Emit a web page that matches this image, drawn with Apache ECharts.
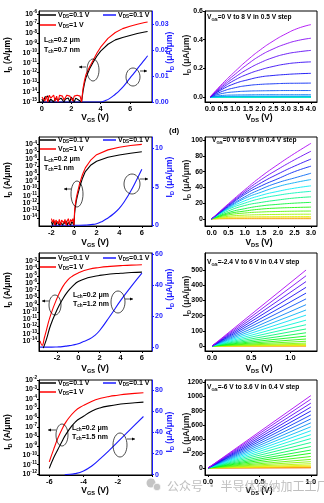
<!DOCTYPE html>
<html><head><meta charset="utf-8">
<script src="https://cdn.jsdelivr.net/npm/echarts@6/dist/echarts.min.js"></script>
<style>html,body{margin:0;padding:0;background:#fff}#c{width:324px;height:503px}</style>
</head><body><div id="c"></div>
<script>
// ================= DATA =================
// Transfer curves: left axis = log10(I_D [A/um]); right axis = linear I_D.
// (a) Tch = 0.7 nm
const aVgs = [0,0.1,0.2,0.3,0.4,0.5,0.6,0.7,0.8,0.9,1.0,1.1,1.2,1.3,1.4,1.5,1.6,1.7,1.8,1.9,2.0,2.1,2.2,2.3,2.4,2.5,2.6,2.7,
  2.75,2.8,2.9,3.0,3.25,3.5,3.75,4.0,4.5,5.0,5.5,6.0,6.5,7.0,7.2];
const aRedLog10 = [-14.5,-14.3,-14.9,-14.4,-15.0,-14.3,-14.6,-14.4,-14.3,-14.9,-14.4,-15.0,-14.3,-14.5,-14.4,-14.8,-15.0,-14.3,-14.5,-14.4,-14.3,-14.9,-14.4,-14.6,-14.3,-14.5,-14.4,-15.0,
  -15.0,-13.6,-12.8,-12.2,-11.4,-10.7,-10.0,-9.4,-8.5,-7.9,-7.5,-7.25,-7.05,-6.88,-6.82];
const aBlackLog10 = [-14.7,-15.0,-14.5,-14.6,-14.4,-15.0,-14.7,-14.5,-15.0,-14.6,-14.5,-14.8,-15.0,-14.6,-14.5,-15.0,-14.7,-14.5,-14.6,-15.0,-14.5,-14.7,-15.0,-14.6,-14.5,-14.8,-14.6,-15.0,
  -15.0,-13.9,-13.1,-12.5,-11.6,-10.9,-10.3,-9.8,-9.1,-8.65,-8.4,-8.2,-8.0,-7.85,-7.8];
const aBlueVgs = [0,1,2,3,4.0,4.3,4.6,5.0,5.3,5.6,6.0,6.3,6.6,7.0,7.2];
const aBlueId = [0,0,0,0,0,0.0005,0.0013,0.003,0.0045,0.0063,0.0092,0.0113,0.0135,0.0163,0.0178];

// (c) Tch = 1 nm
const cVgs = [-2.0,-1.9,-1.8,-1.7,-1.6,-1.5,-1.4,-1.3,-1.2,-1.1,-1.0,-0.9,-0.8,-0.7,-0.6,-0.5,-0.4,-0.3,-0.2,-0.1,0.0,
  0.05,0.1,0.2,0.3,0.5,0.75,1.0,1.5,2.0,3.0,4.0,5.0,6.0];
const cRedLog10 = [-14.1,-14.6,-14.2,-15.0,-14.3,-14.1,-14.8,-14.2,-15.0,-14.3,-14.1,-14.7,-14.2,-15.0,-14.4,-14.1,-14.9,-14.2,-14.5,-14.1,-15.0,
  -13.0,-12.3,-11.3,-10.6,-9.3,-8.1,-7.2,-6.1,-5.4,-4.75,-4.4,-4.15,-4.0];
const cBlackLog10 = [-14.5,-15.0,-14.4,-14.7,-15.0,-14.5,-14.3,-15.0,-14.6,-14.4,-15.0,-14.5,-14.8,-14.4,-15.0,-14.6,-14.4,-15.0,-14.5,-14.6,-15.0,
  -13.4,-12.7,-11.7,-11.0,-9.8,-8.6,-7.7,-6.8,-6.3,-5.75,-5.45,-5.2,-5.0];
const cBlueVgs = [-2,-1,0,0.5,1.0,1.5,2.0,2.5,3.0,3.5,4.0,4.5,5.0,5.5,6.0];
const cBlueId = [0,0,0,0,0.02,0.08,0.2,0.5,0.95,1.5,2.2,3.2,4.4,5.8,7.3];

// (e) Tch = 1.2 nm
const eRedVgs = [-3.6,-3.4,-3.2,-3.0,-2.6,-2.0,-1.5,-1.0,-0.5,0,1,2,3,4,5,6];
const eRedLog10 = [-14.0,-14.6,-13.6,-12.5,-10.4,-8.1,-6.6,-5.6,-5.0,-4.6,-4.1,-3.85,-3.7,-3.6,-3.52,-3.47];
const eBlackVgs = [-3.3,-3.0,-2.6,-2.0,-1.5,-1.0,-0.5,0,1,2,3,4,5,6];
const eBlackLog10 = [-15.0,-13.8,-11.8,-9.7,-8.3,-7.2,-6.4,-5.8,-5.25,-4.95,-4.75,-4.65,-4.55,-4.5];
const eBlueVgs = [-3.6,-2.5,-2.0,-1.5,-1.0,-0.5,0,0.5,1.0,1.5,2.0,3.0,4.0,5.0,6.0];
const eBlueId = [0,0,0.1,0.3,0.8,1.4,2.2,3.6,5.0,7.2,10.5,20,30,39,47.5];

// (g) Tch = 1.5 nm
const gVgs = [-6,-5.75,-5.5,-5.25,-5,-4.5,-4,-3.5,-3,-2.5,-2,-1.5,-1,-0.5];
const gRedLog10 = [-10.7,-9.4,-8.2,-7.2,-6.4,-5.3,-4.7,-4.25,-3.95,-3.75,-3.62,-3.5,-3.42,-3.35];
const gBlackLog10 = [-11.4,-10.3,-9.4,-8.5,-7.7,-6.5,-5.85,-5.3,-4.95,-4.75,-4.6,-4.5,-4.42,-4.35];
const gBlueVgs = [-5.1,-5,-4.5,-4,-3.5,-3,-2.5,-2,-1.5,-1,-0.5];
const gBlueId = [0,0.2,1,3.5,8.5,15.5,23,31,39,47,55];

// Output curves (I_D in uA/um), one row per V_GS step, low -> high V_GS
const bVds = [0,0.5,1.0,1.5,2.0,2.5,3.0,3.5,4.0];
const bCurves = [
  [0,0,0,0,0,0,0,0,0],[0,0,0,0,0,0,0,0,0],[0,0,0,0,0,0,0,0,0],[0,0,0,0,0,0,0,0,0],
  [0,0,0,0,0,0,0,0,0],[0,0,0,0,0,0,0,0,0],[0,0,0,0,0,0,0,0,0],
  [0,0.0015,0.002,0.002,0.002,0.002,0.002,0.002,0.002],
  [0,0.004,0.0055,0.006,0.006,0.006,0.006,0.006,0.006],
  [0,0.011,0.014,0.015,0.016,0.016,0.016,0.016,0.016],
  [0,0.025,0.036,0.041,0.043,0.044,0.045,0.045,0.045],
  [0,0.04,0.065,0.08,0.088,0.092,0.095,0.096,0.097],
  [0,0.055,0.095,0.12,0.14,0.15,0.157,0.162,0.165],
  [0,0.065,0.12,0.16,0.19,0.213,0.23,0.24,0.245],
  [0,0.075,0.14,0.195,0.24,0.275,0.30,0.315,0.325],
  [0,0.085,0.16,0.23,0.29,0.335,0.37,0.395,0.41],
  [0,0.095,0.18,0.26,0.33,0.39,0.44,0.48,0.505]
];
const dVds = [0,0.5,1.0,1.5,2.0,2.5,3.0];
const dCurves = [
  [0,0.25,0.3,0.3,0.3,0.3,0.3],
  [0,0.9,1.1,1.15,1.2,1.2,1.2],
  [0,1.9,2.6,2.8,2.9,3,3],
  [0,3.3,4.8,5.4,5.7,5.9,6],
  [0,5,7.5,8.8,9.4,9.8,10],
  [0,6.5,10,12.5,13.8,14.5,15],
  [0,8,13,16.5,18.5,20,21],
  [0,10,17,21,24,26.5,28],
  [0,12,20,26,30,33,35],
  [0,13,23,30,35,39,42],
  [0,14,26,34,41,46,50],
  [0,15,28,38,46,52,58],
  [0,16,31,42,51,60,67],
  [0,17,33,46,57,67,76],
  [0,18,35,50,63,75,86],
  [0,19,37,54,69,83,96]
];
const fVds = [0,1.2];
const fEnd = [0,0.5,2,5,11,19,31,46,65,87,112,140,170,203,237,272,310,348,386,424,462,500];
const hVds = [0,1.0];
const hEnd = [2,6,14,25,40,60,88,120,160,205,250,300,355,410,465,520,575,630,685,740,795,850,905,960,1010];

// Tick values
const aXTicks = [0,2,4,6], aYTicks = [-15,-14,-13,-12,-11,-10,-9,-8,-7,-6], aRTicks = [0,0.01,0.02,0.03];
const cXTicks = [-2,0,2,4,6], cYTicks = [-15,-14,-13,-12,-11,-10,-9,-8,-7,-6,-5,-4,-3], cRTicks = [0,5,10];
const eXTicks = [-2,0,2,4,6], eYTicks = [-15,-14,-13,-12,-11,-10,-9,-8,-7,-6,-5,-4,-3,-2], eRTicks = [0,20,40,60];
const gXTicks = [-6,-4,-2,0], gYTicks = [-12,-11,-10,-9,-8,-7,-6,-5,-4,-3,-2], gRTicks = [0,20,40,60,80];
const bXTicks = [0,0.5,1,1.5,2,2.5,3,3.5,4], bYTicks = [0,0.2,0.4,0.6];
const dXTicks = [0,0.5,1,1.5,2,2.5,3], dYTicks = [0,20,40,60,80,100];
const fXTicks = [0,0.5,1], fYTicks = [0,100,200,300,400,500];
const hXTicks = [0,0.5,1], hYTicks = [0,200,400,600,800,1000,1200];

// ================= CHART =================
const F = '"Liberation Sans", Arial, sans-serif';
const BLUE = '#1a1aff', RED = '#ff0000', BLK = '#000000';

function hsl2hex(h, s, l) {
  s /= 100; l /= 100;
  const k = n => (n + h / 30) % 12, a = s * Math.min(l, 1 - l);
  const f = n => l - a * Math.max(-1, Math.min(k(n) - 3, Math.min(9 - k(n), 1)));
  const t = x => Math.round(x * 255).toString(16).padStart(2, '0');
  return '#' + t(f(0)) + t(f(8)) + t(f(4));
}
function rainbow(i, n, h0, h1) { return hsl2hex(h0 + (h1 - h0) * i / (n - 1), 92, 50); }

const grids = [
  {left:39, top:11, width:113, height:91},
  {left:205, top:11, width:112, height:91},
  {left:39, top:137, width:113, height:89},
  {left:205, top:137, width:112, height:89},
  {left:39, top:253, width:113, height:98},
  {left:205, top:253, width:112, height:98},
  {left:39, top:380, width:113, height:95},
  {left:205, top:380, width:112, height:95}
].map(g => Object.assign({show:true, borderColor:'#000', borderWidth:1, backgroundColor:'transparent'}, g));

const lblBase = {fontSize:7.5, fontWeight:'bold', fontFamily:F, color:'#000'};
function xAx(gi, min, max, ticks, fmt) {
  return {type:'value', gridIndex:gi, min, max, position:'bottom',
    axisLine:{show:true, onZero:false, lineStyle:{color:'#000', width:1}},
    axisTick:{show:true, inside:false, length:2, customValues:ticks, lineStyle:{color:'#000'}},
    axisLabel:Object.assign({customValues:ticks, formatter:fmt, margin:3}, lblBase),
    splitLine:{show:false}};
}
function yAx(gi, min, max, ticks, fmt, pos, color, rich) {
  const lab = Object.assign({customValues:ticks, formatter:fmt, margin:pos==='right'?3:2}, lblBase, {color, fontSize:7});
  if (rich) lab.rich = rich;
  return {type:'value', gridIndex:gi, min, max, position:pos,
    axisLine:{show:true, onZero:false, lineStyle:{color, width:1}},
    axisTick:{show:true, inside:false, length:2, customValues:ticks, lineStyle:{color}},
    axisLabel:lab, splitLine:{show:false}};
}
const logRich = {
  b:{fontSize:7, fontWeight:'bold', fontFamily:F, color:'#000', lineHeight:9},
  s:{fontSize:4.6, fontWeight:'bold', fontFamily:F, color:'#000', verticalAlign:'top', lineHeight:5}
};
const logFmt = v => '{b|10}{s|' + Math.round(v) + '}';
const f0 = v => String(v), f1 = v => v.toFixed(1), f2 = v => v.toFixed(2);

const xAxes = [
  xAx(0, -0.2, 7.5, aXTicks, f0),
  xAx(1, -0.2, 4.24, bXTicks, f1),
  xAx(2, -3.1, 6.9, cXTicks, f0),
  xAx(3, -0.2, 3.18, dXTicks, f1),
  xAx(4, -3.7, 6.95, eXTicks, f0),
  xAx(5, -0.09, 1.34, fXTicks, f1),
  xAx(6, -6.6, 0, gXTicks, f0),
  xAx(7, -0.03, 1.06, hXTicks, f1)
];
const yAxes = [
  yAx(0, -15, -5.7, aYTicks, logFmt, 'left', '#000', logRich),     //0
  yAx(0, 0, 0.035, aRTicks, f2, 'right', BLUE),                     //1
  yAx(1, -0.035, 0.6, bYTicks, f1, 'left', '#000'),                 //2
  yAx(2, -15.1, -3, cYTicks, logFmt, 'left', '#000', logRich),      //3
  yAx(2, -0.1, 11.5, cRTicks, f0, 'right', BLUE),                   //4
  yAx(3, -9, 104, dYTicks, f0, 'left', '#000'),                     //5
  yAx(4, -15.4, -1.85, eYTicks, logFmt, 'left', '#000', logRich),   //6
  yAx(4, -2.5, 60.5, eRTicks, f0, 'right', BLUE),                   //7
  yAx(5, -33, 612, fYTicks, f0, 'left', '#000'),                    //8
  yAx(6, -12.1, -2, gYTicks, logFmt, 'left', '#000', logRich),      //9
  yAx(6, -0.3, 89.5, gRTicks, f0, 'right', BLUE),                   //10
  yAx(7, -98, 1228, hYTicks, f0, 'left', '#000')                    //11
];

function line(xi, yi, xs, ys, color, width, smooth) {
  return {type:'line', xAxisIndex:xi, yAxisIndex:yi, data:xs.map((x, i) => [x, ys[i]]),
    showSymbol:false, symbol:'none', smooth:smooth ? 0.5 : false,
    lineStyle:{color, width}, itemStyle:{color}, silent:true, animation:false, clip:true};
}

const series = [];
// transfer panels
series.push(line(0, 1, aBlueVgs, aBlueId, BLUE, 1.1, true));
series.push(line(0, 0, aVgs, aBlackLog10, BLK, 1.1));
series.push(line(0, 0, aVgs, aRedLog10, RED, 1.1));
series.push(line(2, 4, cBlueVgs, cBlueId, BLUE, 1.1, true));
series.push(line(2, 3, cVgs, cBlackLog10, BLK, 1.1));
series.push(line(2, 3, cVgs, cRedLog10, RED, 1.1));
series.push(line(4, 7, eBlueVgs, eBlueId, BLUE, 1.1, true));
series.push(line(4, 6, eBlackVgs, eBlackLog10, BLK, 1.1, true));
series.push(line(4, 6, eRedVgs, eRedLog10, RED, 1.1, true));
series.push(line(6, 10, gBlueVgs, gBlueId, BLUE, 1.1, true));
series.push(line(6, 9, gVgs, gBlackLog10, BLK, 1.1, true));
series.push(line(6, 9, gVgs, gRedLog10, RED, 1.1, true));
// output panels
bCurves.forEach((c, i) => series.push(line(1, 2, bVds, c, rainbow(i, bCurves.length, 120, 282), 0.9, true)));
dCurves.forEach((c, i) => series.push(line(3, 5, dVds, c, rainbow(i, dCurves.length, 32, 282), 0.9, true)));
fEnd.forEach((e, i) => series.push(line(5, 8, fVds, [0, e], rainbow(i, fEnd.length, 28, 282), 0.9)));
hEnd.forEach((e, i) => series.push(line(7, 11, hVds, [0, e], rainbow(i, hEnd.length, 22, 282), 0.9)));

// ---------- annotation graphics ----------
function rich(s, c) {
  return {
    n:{fontSize:s, fontWeight:'bold', fontFamily:F, fill:c, lineHeight:s + 2},
    sub:{fontSize:s * 0.66, fontWeight:'bold', fontFamily:F, fill:c, verticalAlign:'bottom', lineHeight:s * 0.4}
  };
}
function txt(x, y, text, o) {
  o = o || {};
  const s = o.size || 7, c = o.color || '#000';
  return {type:'text', x, y, rotation:o.rot || 0, silent:true, z:100,
    style:{text, fill:c, fontSize:s, fontWeight:'bold', fontFamily:F,
      align:o.align || 'left', verticalAlign:'middle', rich:rich(s, c)}};
}
function seg(x1, y1, x2, y2, c, w) {
  return {type:'line', silent:true, z:100, shape:{x1, y1, x2, y2}, style:{stroke:c, lineWidth:w || 1}};
}
function ell(cx, cy, rx, ry) {
  return {type:'ellipse', silent:true, z:100, shape:{cx, cy, rx, ry}, style:{fill:null, stroke:'#000', lineWidth:0.7}};
}
function arrow(x1, y, x2) {
  const d = x2 > x1 ? -1 : 1;
  return [seg(x1, y, x2, y, '#000', 0.7),
    {type:'polygon', silent:true, z:100, shape:{points:[[x2, y], [x2 + d * 3, y - 1.5], [x2 + d * 3, y + 1.5]]}, style:{fill:'#000'}}];
}
const VDS01 = '{n|V}{sub|DS}{n|=0.1 V}', VDS1 = '{n|V}{sub|DS}{n|=1 V}';
const IDA = '{n|I}{sub|D}{n| (A/μm)}', IDuA = '{n|I}{sub|D}{n| (μA/μm)}';
const VGSx = '{n|V}{sub|GS}{n| (V)}', VDSx = '{n|V}{sub|DS}{n| (V)}';
const R90 = Math.PI / 2;

const G = [];
function transferDecor(yL1, yL2, lch, tch, lx, ly1, ly2, yTitle, bTitle, xTitleY, e1, a1, e2, a2) {
  G.push(seg(40, yL1, 56, yL1, BLK, 1.5), txt(58, yL1, VDS01));
  G.push(seg(40, yL2, 56, yL2, RED, 1.5), txt(58, yL2, VDS1));
  G.push(seg(103, yL1, 116, yL1, BLUE, 1.5), txt(118, yL1, VDS01));
  G.push(txt(lx, ly1, '{n|L}{sub|ch}{n|=' + lch + '}'), txt(lx, ly2, '{n|T}{sub|ch}{n|=' + tch + '}'));
  G.push(txt(8, yTitle, IDA, {rot:R90, align:'center', size:8.5}));
  G.push(txt(170, bTitle, IDuA, {rot:R90, align:'center', size:8.5, color:BLUE}));
  G.push(txt(95, xTitleY, VGSx, {align:'center', size:8.5}));
  G.push(ell.apply(null, e1), ell.apply(null, e2));
  G.push(...arrow(a1[0], a1[1], a1[2]), ...arrow(a2[0], a2[1], a2[2]));
}
transferDecor(15, 25, '0.2 μm', '0.7 nm', 44, 40, 50, 55, 52, 118, [93, 70, 6, 11], [86, 67, 79], [133, 77, 7, 9], [140, 71, 147]);
transferDecor(140, 149, '0.2 μm', '1 nm', 44, 159, 168, 180, 177, 243, [77, 194, 6, 13], [71, 189, 64], [132, 184, 8, 10], [140, 179, 148]);
transferDecor(258, 267, '0.2 μm', '1.2 nm', 73, 295, 304, 290, 289, 369, [55, 305, 6, 10], [49, 301, 42], [118, 302, 7, 11], [125, 299, 133]);
transferDecor(383, 392, '0.2 μm', '1.5 nm', 72, 428, 437, 432, 432, 491, [62, 435, 6, 11], [56, 430, 48], [120, 445, 7, 12], [127, 439, 135]);

function outputDecor(title, tx, ty, yTitle, xTitleY) {
  G.push(txt(tx, ty, '{n|V}{sub|GS}{n|=' + title + '}', {size:6.6}));
  G.push(txt(187, yTitle, IDuA, {rot:R90, align:'center', size:8.5, color:'#222'}));
  G.push(txt(259, xTitleY, VDSx, {align:'center', size:8.5}));
}
outputDecor('0 V to 8 V in 0.5 V step', 207, 17, 55, 118);
outputDecor('0 V to 6 V in 0.4 V step', 212, 140, 180, 243);
outputDecor('-2.4 V to 6 V in 0.4 V step', 207, 262, 296, 369);
outputDecor('-6 V to 3.6 V in 0.4 V step', 207, 387, 433, 491);
G.push(txt(169, 131, '(d)', {size:8}));

// watermark
G.push({type:'circle', silent:true, z:110, shape:{cx:151, cy:483, r:4.5}, style:{fill:'#c4c4c4'}});
G.push({type:'circle', silent:true, z:110, shape:{cx:157, cy:487, r:3.8}, style:{fill:'#c4c4c4', stroke:'#fff', lineWidth:0.8}});
G.push({type:'text', x:167, y:486, silent:true, z:110,
  style:{text:'公众号 · 半导体微纳加工工厂', fill:'rgba(170,170,170,0.75)', fontSize:12, fontFamily:'"Noto Sans CJK SC", sans-serif', align:'left', verticalAlign:'middle'}});

const chart = echarts.init(document.getElementById('c'), null, {renderer:'canvas'});
chart.setOption({
  animation:false,
  backgroundColor:'#ffffff',
  grid:grids,
  xAxis:xAxes,
  yAxis:yAxes,
  series,
  graphic:G
});
</script></body></html>
